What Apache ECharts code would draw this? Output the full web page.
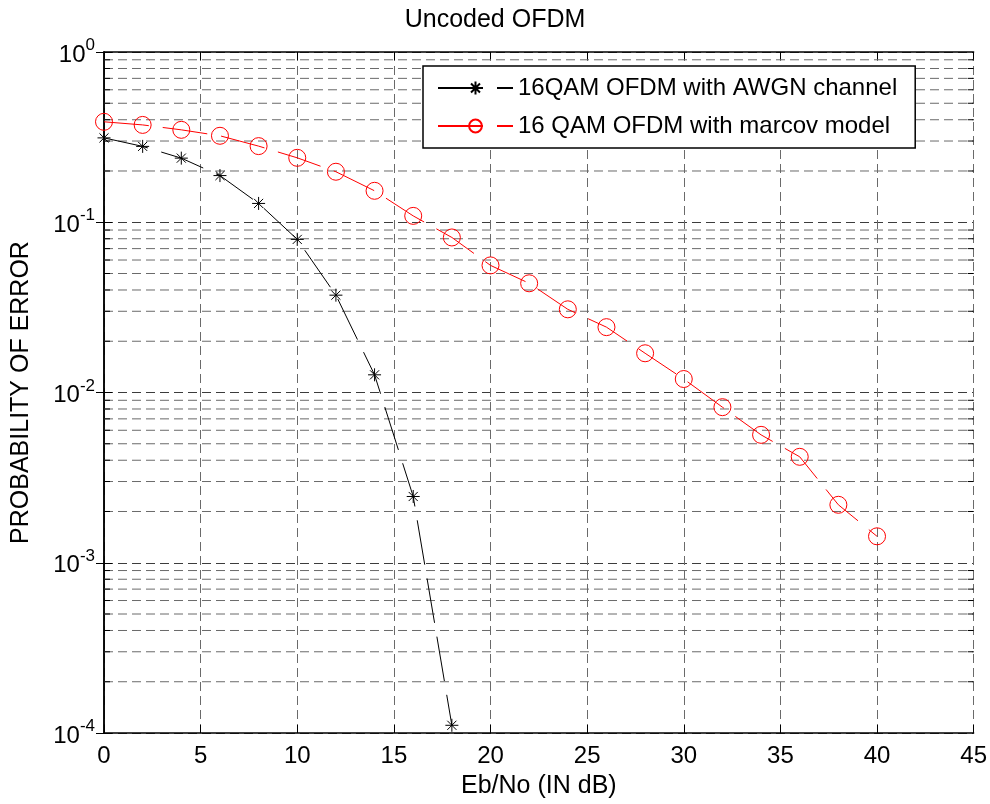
<!DOCTYPE html>
<html>
<head>
<meta charset="utf-8">
<script src="https://cdn.jsdelivr.net/npm/echarts@6/dist/echarts.min.js"></script>
<style>html,body{margin:0;padding:0;background:#fff;}#chart{width:990px;height:804px;}</style>
</head>
<body>
<div id="chart"></div>
<script>
// ---- data ----
const ebno = [0, 2, 4, 6, 8, 10, 12, 14, 16, 18, 20, 22, 24, 26, 28, 30, 32, 34, 36, 38, 40];
const awgnX = [0, 2, 4, 6, 8, 10, 12, 14, 16, 18];
const awgnBER = [0.313, 0.279, 0.238, 0.188, 0.129, 0.0793, 0.0373, 0.0127, 0.00245, 0.000111];
const markovBER = [0.389, 0.373, 0.349, 0.322, 0.280, 0.239, 0.198, 0.153, 0.109, 0.0814, 0.0558,
  0.0438, 0.0308, 0.0242, 0.0170, 0.0120, 0.0082, 0.00564, 0.00419, 0.00219, 0.00143];
const seriesNames = ['16QAM OFDM with AWGN channel', '16 QAM OFDM with marcov model'];
const xTicks = [0, 5, 10, 15, 20, 25, 30, 35, 40, 45];
const yDecades = [1e-4, 1e-3, 1e-2, 1e-1, 1];
const minorMultipliers = [2, 3, 4, 5, 6, 7, 8, 9];

const minorTicks = [];
for (let d = 0; d < yDecades.length - 1; d++) {
  for (const m of minorMultipliers) minorTicks.push([0, +(m * yDecades[d]).toPrecision(3)]);
}

const FONT = 'Liberation Sans, Arial, sans-serif';
const GRIDCOLOR = '#6a6a6a';

const chart = echarts.init(document.getElementById('chart'), null, {renderer: 'canvas'});
const asterisk = 'path://M0,-10L0,10M-10,0L10,0M-7,-7L7,7M-7,7L7,-7';

const option = {
  backgroundColor: '#fff',
  animation: false,
  title: {
    text: 'Uncoded OFDM', left: 'center', top: 8, padding: 0,
    textStyle: {fontFamily: FONT, fontSize: 25, fontWeight: 'normal', color: '#000'}
  },
  legend: {
    orient: 'vertical', left: 423, top: 66,
    data: seriesNames,
    backgroundColor: '#fff', borderColor: '#000', borderWidth: 1.5, borderRadius: 0,
    padding: [10, 18, 10, 14], itemGap: 14, itemWidth: 75, itemHeight: 16,
    textStyle: {fontFamily: FONT, fontSize: 24, color: '#000'}
  },
  grid: {left: 104, right: 15, top: 52, bottom: 69},
  xAxis: [{
    type: 'value', min: 0, max: 45, interval: 5, position: 'bottom',
    name: 'Eb/No (IN dB)', nameLocation: 'middle', nameGap: 41,
    nameTextStyle: {fontFamily: FONT, fontSize: 25, color: '#000'},
    axisLine: {show: true, lineStyle: {color: '#000', width: 1.5}},
    axisTick: {show: true, inside: true, length: 8, lineStyle: {color: '#000'}},
    axisLabel: {fontFamily: FONT, fontSize: 24, color: '#000', margin: 11},
    splitLine: {show: true, lineStyle: {color: GRIDCOLOR, type: [9, 5], width: 1}}
  }, {
    type: 'value', min: 0, max: 45, interval: 5, position: 'top',
    axisLine: {show: true, lineStyle: {color: '#000', width: 1.5}},
    axisTick: {show: true, inside: true, length: 8, lineStyle: {color: '#000'}},
    axisLabel: {show: false}, splitLine: {show: false}
  }],
  yAxis: [{
    type: 'log', logBase: 10, min: 1e-4, max: 1, splitNumber: 4, position: 'left',
    name: 'PROBABILITY OF ERROR', nameLocation: 'middle', nameGap: 70,
    nameTextStyle: {fontFamily: FONT, fontSize: 25, color: '#000'},
    axisLine: {show: true, lineStyle: {color: '#000', width: 1.5}},
    axisTick: {show: true, inside: true, length: 8, lineStyle: {color: '#000'}},
    axisLabel: {
      margin: 9,
      formatter: v => '{b|10}{s|' + Math.round(Math.log10(v)) + '}',
      rich: {
        b: {fontFamily: FONT, fontSize: 24, color: '#000', verticalAlign: 'bottom'},
        s: {fontFamily: FONT, fontSize: 17, color: '#000', verticalAlign: 'bottom', padding: [0, 0, 13, 0]}
      }
    },
    splitLine: {show: true, lineStyle: {color: '#3c3c3c', type: [9, 5], width: 1}}
  }, {
    type: 'log', logBase: 10, min: 1e-4, max: 1, splitNumber: 4, position: 'right',
    axisLine: {show: true, lineStyle: {color: '#000', width: 1.5}},
    axisTick: {show: true, inside: true, length: 8, lineStyle: {color: '#000'}},
    axisLabel: {show: false}, splitLine: {show: false}
  }],
  series: [{
    type: 'custom', silent: true, z: 1,
    xAxisIndex: 0, yAxisIndex: 0,
    data: minorTicks,
    clip: false,
    renderItem: (params, api) => {
      const v = api.value(1);
      const p0 = api.coord([0, v]);
      const p1 = api.coord([45, v]);
      return {
        type: 'group',
        children: [
          {type: 'line', shape: {x1: p0[0], y1: p0[1], x2: p1[0], y2: p1[1]},
            style: {stroke: GRIDCOLOR, lineWidth: 1, lineDash: [9, 5]}},
          {type: 'line', shape: {x1: p0[0], y1: p0[1], x2: p0[0] + 6, y2: p0[1]},
            style: {stroke: '#000', lineWidth: 1}},
          {type: 'line', shape: {x1: p1[0] - 6, y1: p1[1], x2: p1[0], y2: p1[1]},
            style: {stroke: '#000', lineWidth: 1}}
        ]
      };
    }
  }, {
    name: seriesNames[0], type: 'line', z: 3,
    data: awgnX.map((x, i) => [x, awgnBER[i]]),
    symbol: asterisk, symbolSize: 13,
    itemStyle: {color: '#000', borderColor: '#000', borderWidth: 1},
    lineStyle: {color: '#000', width: 1, type: [45, 14]}
  }, {
    name: seriesNames[1], type: 'line', z: 3,
    data: ebno.map((x, i) => [x, markovBER[i]]),
    symbol: 'circle', symbolSize: 17,
    itemStyle: {color: 'rgba(0,0,0,0)', borderColor: '#ff0000', borderWidth: 1},
    lineStyle: {color: '#ff0000', width: 1, type: [45, 14]}
  }]
};
chart.setOption(option);
</script>
</body>
</html>
